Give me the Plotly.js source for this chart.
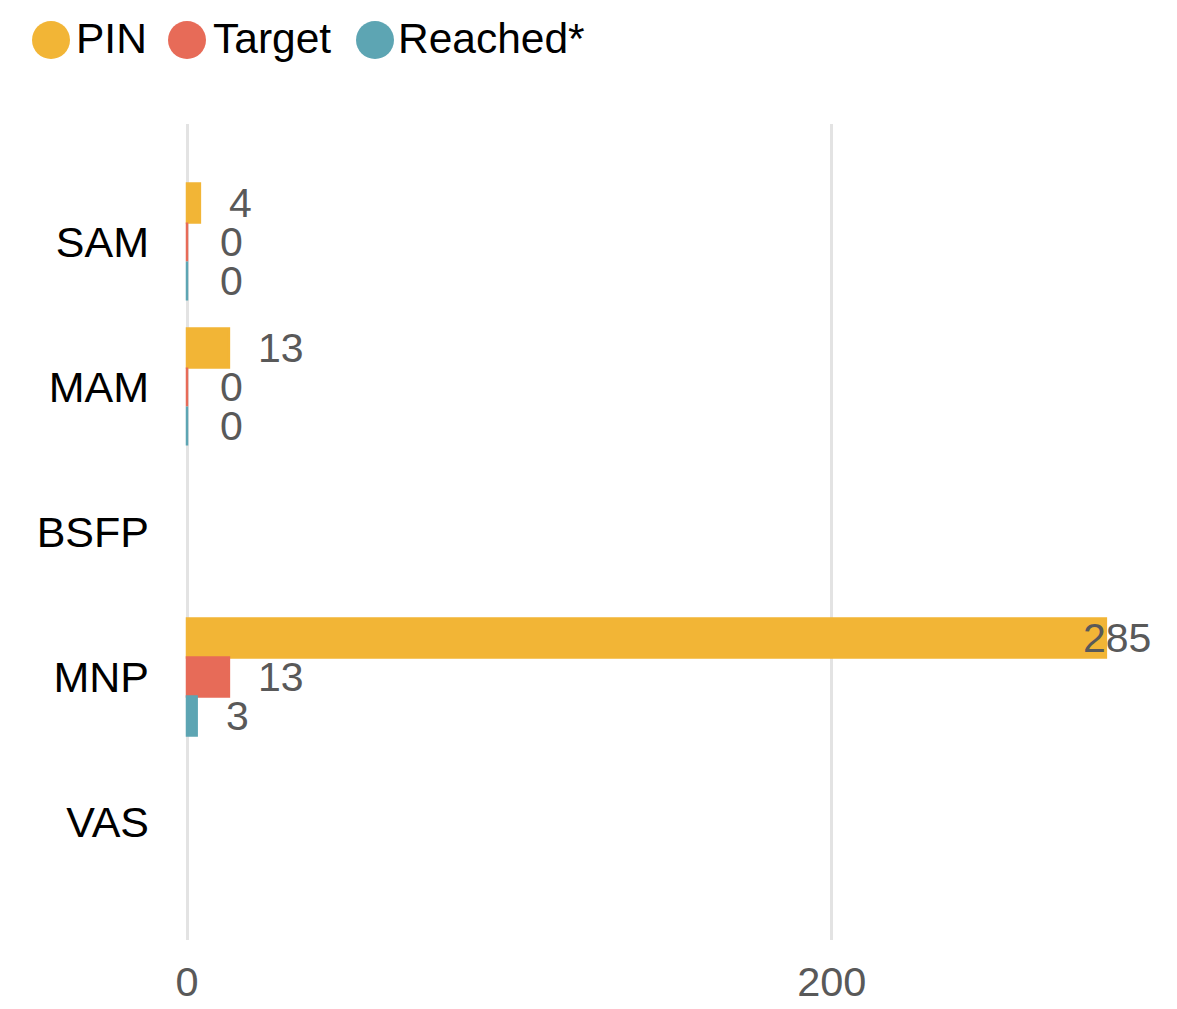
<!DOCTYPE html>
<html>
<head>
<meta charset="utf-8">
<script src="https://cdn.plot.ly/plotly-3.0.1.min.js"></script>
<style>html,body{margin:0;padding:0;background:#fff;}</style>
</head>
<body>
<div id="chart" style="width:1177px;height:1009px;"></div>
<script>
// ---- data ----
const categories = ['SAM', 'MAM', 'BSFP', 'MNP', 'VAS'];
const seriesNames = ['PIN', 'Target', 'Reached*'];
const pinValues = [4, 13, null, 285, null];
const targetValues = [0, 0, null, 13, null];
const reachedValues = [0, 0, null, 3, null];
const xTickValues = [0, 200];
const xTickLabels = ['0', '200'];

// ---- styling ----
const colors = ['#F2B536', '#E76B58', '#5DA5B3'];
const FONT = '"Liberation Sans", Arial, sans-serif';
const labelGrey = '#595959';
const W = 1177, H = 1009;
const M = {l: 180, r: 26, t: 124, b: 69};
const plotW = W - M.l - M.r, plotH = H - M.t - M.b;
const xRange = [-2.17, 299];
const yPad = 0.814;
const bargap = 0.193;
const seriesValues = [pinValues, targetValues, reachedValues];

const traces = seriesValues.map((vals, i) => ({
  type: 'bar',
  orientation: 'h',
  name: seriesNames[i],
  x: vals,
  y: categories,
  marker: {color: colors[i], line: {color: colors[i], width: 2.5}},
  cliponaxis: false,
  showlegend: false,
  hoverinfo: 'x+name'
}));

// value labels
const annotations = [];
const bw = (1 - bargap) / seriesNames.length;
seriesValues.forEach((vals, i) => {
  vals.forEach((v, c) => {
    if (v === null || v === undefined) return;
    const tooLong = v > 0.9 * xRange[1];
    annotations.push({
      xref: 'x', yref: 'y',
      x: tooLong ? xRange[1] : v,
      y: c + (i - (seriesNames.length - 1) / 2) * bw,
      text: String(v),
      showarrow: false,
      xanchor: tooLong ? 'right' : 'left',
      yanchor: 'middle',
      xshift: tooLong ? 2 : (v === 0 ? 31 : 27),
      font: {family: FONT, size: 41, color: labelGrey}
    });
  });
});

// legend (large circle markers)
const px2x = px => (px - M.l) / plotW;
const py2y = py => (M.t + plotH - py) / plotH;
const legendCircleX = [51, 187, 375];
const legendTextX = [74, 211, 396];
const legendY = 40;
const shapes = [];
seriesNames.forEach((n, i) => {
  shapes.push({
    type: 'circle', xref: 'paper', yref: 'paper',
    xsizemode: 'pixel', ysizemode: 'pixel',
    xanchor: px2x(legendCircleX[i]), yanchor: py2y(legendY),
    x0: -19, x1: 19, y0: -19, y1: 19,
    fillcolor: colors[i], line: {width: 0}
  });
  annotations.push({
    xref: 'paper', yref: 'paper',
    x: px2x(legendTextX[i]), y: py2y(legendY - 1),
    xanchor: 'left', yanchor: 'middle',
    text: n, showarrow: false,
    font: {family: FONT, size: 42.5, color: '#000'}
  });
});

const layout = {
  width: W, height: H,
  margin: M,
  paper_bgcolor: '#fff', plot_bgcolor: '#fff',
  barmode: 'group',
  bargap: bargap,
  bargroupgap: 0,
  showlegend: false,
  font: {family: FONT, size: 41, color: labelGrey},
  xaxis: {
    range: xRange,
    tickvals: xTickValues,
    ticktext: xTickLabels,
    showgrid: true,
    gridcolor: '#E3E3E3',
    gridwidth: 3,
    zeroline: false,
    showline: false,
    ticks: '',
    tickfont: {family: FONT, size: 41.5, color: labelGrey},
    ticklabelstandoff: 13
  },
  yaxis: {
    type: 'category',
    categoryorder: 'array',
    categoryarray: categories,
    range: [categories.length - 1 + yPad, -yPad],
    showgrid: false,
    zeroline: false,
    showline: false,
    ticks: '',
    tickfont: {family: FONT, size: 43, color: '#000'},
    ticklabelstandoff: 30
  },
  shapes: shapes,
  annotations: annotations
};

Plotly.newPlot('chart', traces, layout, {displayModeBar: false, staticPlot: true});
</script>
</body>
</html>
